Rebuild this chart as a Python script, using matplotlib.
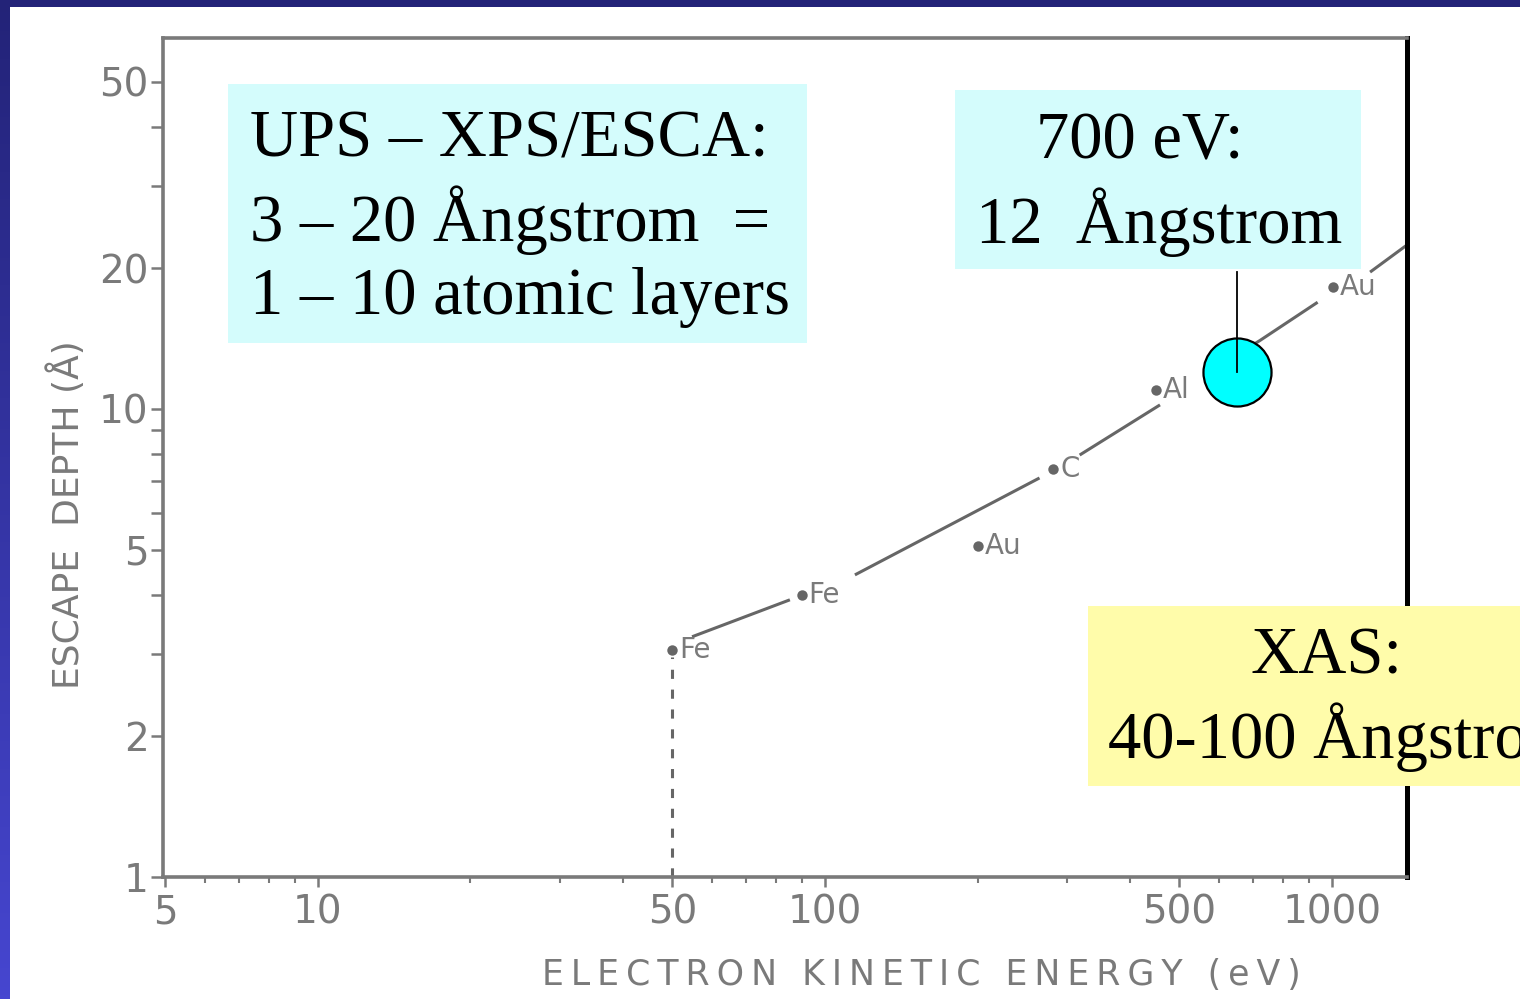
import numpy as np
import matplotlib
matplotlib.use("Agg")
import matplotlib.pyplot as plt
from matplotlib import font_manager
from matplotlib.patches import Rectangle
from matplotlib.ticker import FixedLocator, NullFormatter

# Données (énergie en eV, profondeur en Å)
point_energy = [50, 90, 200, 282, 450, 1005]
point_depth = [3.05, 4.0, 5.1, 7.45, 11.0, 18.2]
point_label = ["Fe", "Fe", "Au", "C", "Al", "Au"]

# courbe universelle (segments coupés autour des étiquettes)
curve_energy = [54.7, 85.3, np.nan, 114.6, 265, np.nan, 318, 458, np.nan,
                588, 721, 937, np.nan, 1189, 1406]
curve_depth = [3.26, 3.91, np.nan, 4.42, 7.12, np.nan, 7.97, 10.2, np.nan,
               12.2, 14.0, 16.9, np.nan, 19.6, 22.4]

threshold_energy = 50
threshold_depth = 2.95

marker_energy = 650
marker_depth = 12.0
connector_top = 19.6

x_ticks = [5, 10, 50, 100, 500, 1000]
x_minor = [6, 7, 8, 9, 20, 30, 40, 60, 70, 80, 90, 200, 300, 400, 600, 700, 800, 900]
y_ticks = [1, 2, 5, 10, 20, 50]
y_minor = [3, 4, 6, 7, 8, 9, 30, 40]

W, H = 1520, 999
GRAY = "#7a7a7a"
DARK = "#666666"

names = {f.name for f in font_manager.fontManager.ttflist}
tick_font = "Liberation Sans Narrow" if "Liberation Sans Narrow" in names else "DejaVu Sans"
serif = "Liberation Serif"


def fx(px):
    return px / W


def fy(py):
    return 1 - py / H


fig = plt.figure(figsize=(W / 100, H / 100), dpi=100)
fig.patch.set_facecolor("white")

# bandeau bleu (haut + dégradé à gauche)
fig.add_artist(Rectangle((0, fy(7)), 1, 7 / H, transform=fig.transFigure,
                         facecolor="#232378", edgecolor="none", zorder=1))
bar = fig.add_axes([0, 0, fx(10), 1])
grad = np.linspace(0, 1, 256)[:, None]
top_c = np.array([35, 35, 120]) / 255
bot_c = np.array([70, 70, 208]) / 255
img = top_c[None, None, :] * (1 - grad[:, :, None]) + bot_c[None, None, :] * grad[:, :, None]
bar.imshow(img, aspect="auto", extent=[0, 1, 0, 1], origin="upper")
bar.axis("off")

ax = fig.add_axes([fx(163), fy(877), fx(1407) - fx(163), fy(38) - fy(877)])
ax.set_xscale("log")
ax.set_yscale("log")
ax.set_xlim(4.95, 1406)
ax.set_ylim(1, 62)

ax.plot(curve_energy, curve_depth, color=DARK, lw=2.2, solid_capstyle="butt")
ax.plot(point_energy, point_depth, "o", color=DARK, ms=7.5, mec="none")
for e, d, lab in zip(point_energy, point_depth, point_label):
    ax.annotate(lab, (e, d), xytext=(5, 0), textcoords="offset points",
                ha="left", va="center", fontsize=20, color=GRAY)

ax.plot([threshold_energy, threshold_energy], [1, threshold_depth],
        color=DARK, lw=2.2, ls=(0, (3, 3.5)))

ax.plot(marker_energy, marker_depth, "o", ms=49, mfc="#00ffff", mec="black",
        mew=1.6, zorder=5)
ax.plot([marker_energy, marker_energy], [marker_depth, connector_top],
        color="black", lw=1.3, zorder=6, clip_on=False)

for side in ["left", "bottom", "top"]:
    ax.spines[side].set_color(GRAY)
    ax.spines[side].set_linewidth(2.6)
ax.spines["right"].set_color("black")
ax.spines["right"].set_linewidth(3.6)

ax.xaxis.set_major_locator(FixedLocator(x_ticks))
ax.xaxis.set_minor_locator(FixedLocator(x_minor))
ax.yaxis.set_major_locator(FixedLocator(y_ticks))
ax.yaxis.set_minor_locator(FixedLocator(y_minor))
ax.set_xticklabels([str(t) for t in x_ticks])
ax.set_yticklabels([str(t) for t in y_ticks])
ax.xaxis.set_minor_formatter(NullFormatter())
ax.yaxis.set_minor_formatter(NullFormatter())
ax.tick_params(axis="x", which="major", direction="out", length=7, width=1.8,
               color=GRAY, labelcolor=GRAY, labelsize=28, pad=5)
ax.tick_params(axis="x", which="minor", direction="out", length=4.5, width=1.5,
               color=GRAY)
ax.tick_params(axis="y", which="both", direction="out", length=8.5, width=1.8,
               color=GRAY, labelcolor=GRAY, labelsize=28, pad=2)
for lab in ax.get_xticklabels() + ax.get_yticklabels():
    lab.set_fontfamily(tick_font)

ax.set_xlabel("\u2009".join("ELECTRON KINETIC ENERGY (eV)"), fontsize=25,
              color=GRAY)
ax.xaxis.set_label_coords((921 - 163) / 1244, -0.097)
ax.set_ylabel("ESCAPE  DEPTH (Å)", fontsize=26, color=GRAY)
ax.yaxis.set_label_coords((86 - 163) / 1244, (877 - 515) / 839)

# encadrés de texte
fig.add_artist(Rectangle((fx(228), fy(343)), fx(807) - fx(228), (343 - 84) / H,
                         transform=fig.transFigure, facecolor="#d4fcfc",
                         edgecolor="none", zorder=3))
fig.text(fx(250), fy(219), "UPS – XPS/ESCA:\n3 – 20 Ångstrom  =\n1 – 10 atomic layers",
         family=serif, fontsize=48, ha="left", va="center", linespacing=1.26, zorder=4)

fig.add_artist(Rectangle((fx(955), fy(269)), fx(1361) - fx(955), (269 - 90) / H,
                         transform=fig.transFigure, facecolor="#d4fcfc",
                         edgecolor="none", zorder=3))
fig.text(fx(1140), fy(142), "700 eV:", family=serif, fontsize=48,
         ha="center", va="center", zorder=4)
fig.text(fx(1159), fy(222), "12  Ångstrom", family=serif, fontsize=48,
         ha="center", va="center", zorder=4)

fig.add_artist(Rectangle((fx(1088), fy(786)), 1 - fx(1088), (786 - 606) / H,
                         transform=fig.transFigure, facecolor="#fffcaa",
                         edgecolor="none", zorder=3))
fig.text(fx(1326), fy(657), "XAS:", family=serif, fontsize=48,
         ha="center", va="center", zorder=4)
fig.text(fx(1108), fy(737), "40-100 Ångstrom", family=serif, fontsize=48,
         ha="left", va="center", zorder=4)

fig.savefig("out.png", dpi=100)
